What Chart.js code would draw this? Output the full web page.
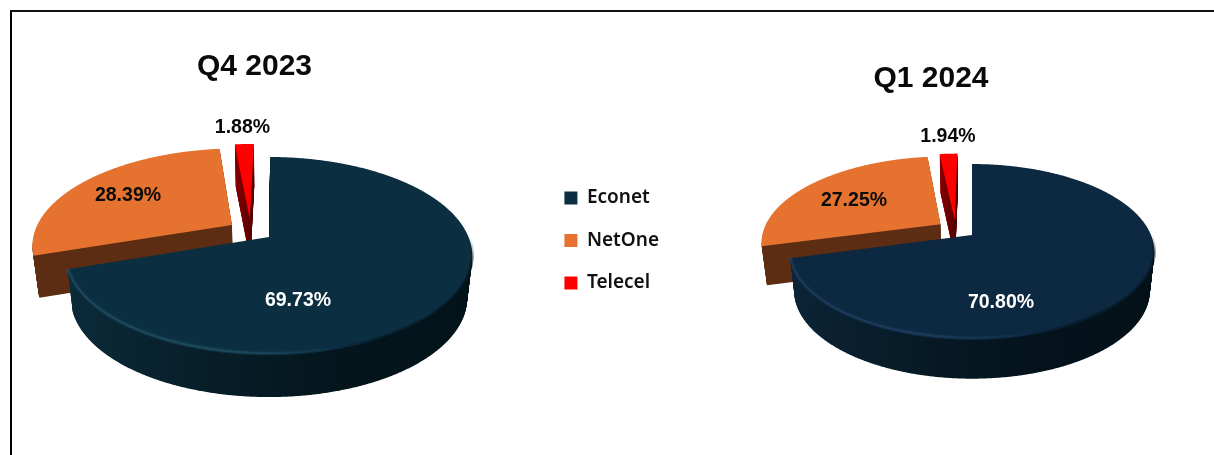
<!DOCTYPE html>
<html>
<head>
<meta charset="utf-8">
<script src="https://cdn.jsdelivr.net/npm/chart.js@4/dist/chart.umd.min.js"></script>
<style>
html,body{margin:0;padding:0;background:#fff;overflow:hidden;width:1214px;height:455px}
#frame{position:absolute;left:10px;top:10px;right:0;bottom:-5px;border-left:2px solid #000;border-top:2px solid #111}
canvas{position:absolute;left:0;top:0}
</style>
</head>
<body>
<div id="frame"></div>
<canvas id="left" width="669" height="455"></canvas>
<canvas id="right" width="1214" height="455"></canvas>
<script>
const categories = ['Econet', 'NetOne', 'Telecel'];
const q4Values = [69.73, 28.39, 1.88];
const q1Values = [70.80, 27.25, 1.94];
const q4Labels = ['69.73%', '28.39%', '1.88%'];
const q1Labels = ['70.80%', '27.25%', '1.94%'];
const LABEL_FONT = 'bold 19.5px "Liberation Sans", Arial, sans-serif';
const TITLE_FONT = 'bold 30px "Liberation Sans", Arial, sans-serif';
const PERSP = 0.192;

function project(v, u, w) {
  const k = 1 + PERSP * w;
  return [v.cx + v.rx * u / k, v.cy - v.ry * w / k];
}
function outline(v, arc, i) {
  const [du, dw] = v.shift[i];
  const pts = [project(v, du, dw)];
  const n = Math.max(4, Math.ceil((arc.endAngle - arc.startAngle) / 0.006));
  for (let s = 0; s <= n; s++) {
    const a = arc.startAngle + (arc.endAngle - arc.startAngle) * s / n;
    pts.push(project(v, Math.cos(a) + du, -Math.sin(a) + dw));
  }
  return pts;
}
function fillPts(ctx, pts) {
  ctx.beginPath();
  pts.forEach((p, j) => j ? ctx.lineTo(p[0], p[1]) : ctx.moveTo(p[0], p[1]));
  ctx.closePath();
  ctx.fill();
}
function clamp01(t) { return Math.max(0, Math.min(1, t)); }
function strokeRim(ctx, v, rim, width, lift, colorAt) {
  ctx.lineWidth = width;
  ctx.lineCap = 'butt';
  for (let j = 0; j + 3 < rim.length; j += 3) {
    ctx.strokeStyle = colorAt(rim[j]);
    ctx.beginPath();
    ctx.moveTo(rim[j][0], rim[j][1] - lift);
    ctx.lineTo(rim[j + 3][0], rim[j + 3][1] - lift);
    ctx.stroke();
  }
}
function pie3d(v) {
  return {
    id: 'pie3d',
    beforeDatasetDraw(chart, args) {
      const ctx = chart.ctx;
      const arcs = chart.getDatasetMeta(args.index).data;
      ctx.save();
      [2, 1, 0].forEach(i => {
        const pts = outline(v, arcs[i], i);
        const stops = v.wall[i];
        const g = ctx.createLinearGradient(stops.x0, 0, stops.x1, 0);
        stops.c.forEach((c, j) => g.addColorStop(j / (stops.c.length - 1), c));
        ctx.fillStyle = g;
        for (let d = v.depth; d >= 1; d -= 0.75) {
          const sx = 1 - 0.025 * d / v.depth;
          fillPts(ctx, pts.map(p => [v.cx + (p[0] - v.cx) * sx, p[1] + d]));
        }
        ctx.fillStyle = arcs[i].options.backgroundColor;
        fillPts(ctx, pts);
        if (i === 0) {
          const rim = pts.slice(1);
          const lightAlpha = p => (p[1] > v.cy ? clamp01((v.cx + 0.5 * v.rx - p[0]) / (0.7 * v.rx)) : 0);
          const darkAlpha = p => clamp01((p[0] - v.cx - 0.25 * v.rx) / (0.4 * v.rx)) * clamp01((p[1] - v.cy) / (0.25 * v.ry));
          strokeRim(ctx, v, rim, 5, 2, p => `rgba(${v.rimRgb},${0.10 * lightAlpha(p)})`);
          strokeRim(ctx, v, rim, 2, 2, p => `rgba(${v.rimRgb},${0.28 * lightAlpha(p)})`);
          strokeRim(ctx, v, rim, 3, 1, p => `rgba(3,16,22,${0.55 * darkAlpha(p)})`);
        }
      });
      ctx.textAlign = 'center';
      ctx.textBaseline = 'middle';
      ctx.font = LABEL_FONT;
      v.labels.forEach((t, i) => {
        ctx.fillStyle = i === 0 ? '#ffffff' : '#0a0a0a';
        ctx.fillText(t, v.labelPos[i][0], v.labelPos[i][1]);
      });
      ctx.font = TITLE_FONT;
      ctx.fillStyle = '#0a0a0a';
      ctx.fillText(v.title, v.titlePos[0], v.titlePos[1]);
      ctx.restore();
      return false;
    }
  };
}
function build(id, values, view, legend) {
  new Chart(document.getElementById(id), {
    type: 'pie',
    data: {
      labels: categories,
      datasets: [{ data: values, backgroundColor: view.faces, borderWidth: 0 }]
    },
    options: {
      responsive: false,
      animation: false,
      rotation: view.rotation,
      layout: { padding: { top: legend ? 26 : 0 } },
      plugins: {
        tooltip: { enabled: false },
        legend: legend ? {
          position: 'right',
          labels: {
            boxWidth: 13, boxHeight: 13, padding: 23.5, color: '#111111',
            font: { family: '"Noto Sans", sans-serif', size: 19, weight: '600' }
          }
        } : { display: false }
      }
    },
    plugins: [pie3d(view)]
  });
}
build('left', q4Values, {
  title: 'Q4 2023', titlePos: [254.5, 67],
  labels: q4Labels, labelPos: [[298, 301], [128, 196], [242.5, 128]],
  cx: 269, cy: 237, rx: 199.5, ry: 95.4, depth: 42, rotation: 0.4,
  shift: [[0, 0], [-0.19, 0.13], [-0.1, 0.2]],
  faces: ['#0b2e40', '#e5722f', '#ff0000'],
  rimRgb: '70,125,150',
  wall: [
    { x0: 70, x1: 475, c: ['#0b2a3a', '#071e29', '#04151c', '#03131a'] },
    { x0: 30, x1: 240, c: ['#5c2c13', '#5c2c13'] },
    { x0: 234, x1: 252, c: ['#8c0000', '#560000'] }
  ]
}, true);
build('right', q1Values, {
  title: 'Q1 2024', titlePos: [931, 79],
  labels: q1Labels, labelPos: [[1001, 303], [854, 201], [948, 137]],
  cx: 972, cy: 235, rx: 179, ry: 84.6, depth: 39, rotation: 0,
  shift: [[0, 0], [-0.18, 0.13], [-0.1, 0.18]],
  faces: ['#0d2841', '#e5722f', '#ff0000'],
  rimRgb: '60,100,140',
  wall: [
    { x0: 790, x1: 1155, c: ['#0c2436', '#071a27', '#04131c', '#041119'] },
    { x0: 760, x1: 945, c: ['#5c2c13', '#5c2c13'] },
    { x0: 939, x1: 955, c: ['#8c0000', '#560000'] }
  ]
}, false);
</script>
</body>
</html>
